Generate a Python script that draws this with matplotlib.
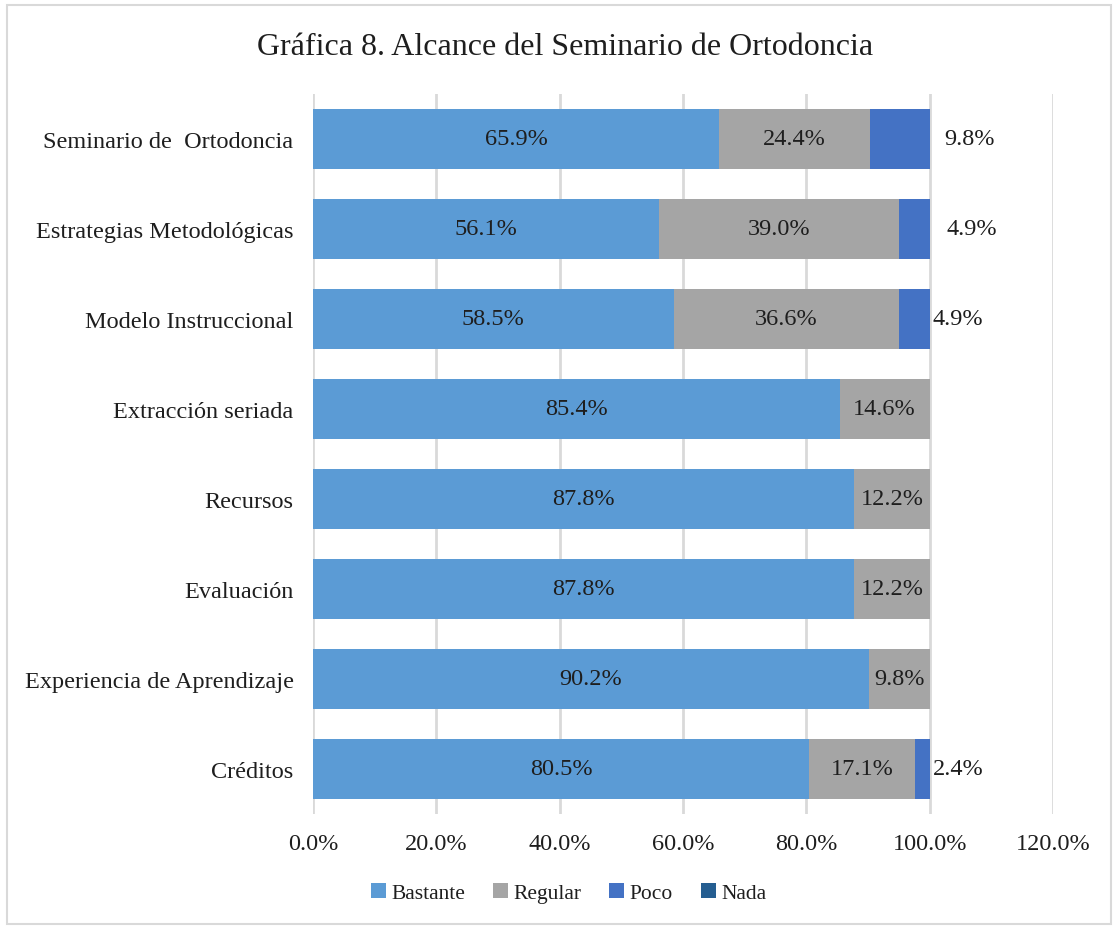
import matplotlib.pyplot as plt
import numpy as np
from matplotlib.patches import Rectangle

plt.rcParams['font.family'] = ['Liberation Serif', 'DejaVu Serif']

categorias = ['Seminario de  Ortodoncia', 'Estrategias Metodológicas', 'Modelo Instruccional',
              'Extracción seriada', 'Recursos', 'Evaluación',
              'Experiencia de Aprendizaje', 'Créditos']
bastante = [65.9, 56.1, 58.5, 85.4, 87.8, 87.8, 90.2, 80.5]
regular = [24.4, 39.0, 36.6, 14.6, 12.2, 12.2, 9.8, 17.1]
poco = [9.8, 4.9, 4.9, 0.0, 0.0, 0.0, 0.0, 2.4]
nada = [0.0, 0.0, 0.0, 0.0, 0.0, 0.0, 0.0, 0.0]

series = [('Bastante', bastante, '#5B9BD5'),
          ('Regular', regular, '#A5A5A5'),
          ('Poco', poco, '#4472C4'),
          ('Nada', nada, '#255E91')]

# separacion de las etiquetas de "Poco" respecto al final de la barra
sep_poco = [2.3, 2.8, 0.4, 0, 0, 0, 0, 0.5]

fig = plt.figure(figsize=(11.15, 9.28), dpi=100)
ax = fig.add_axes([0.2807, 0.1218, 0.6637, 0.7759])

y = np.arange(len(categorias))[::-1]
izq = np.zeros(len(categorias))
for nombre, vals, color in series:
    vals = np.array(vals)
    ax.barh(y, vals, left=izq, height=0.667, color=color, label=nombre, zorder=3)
    for i in range(len(vals)):
        if vals[i] <= 0:
            continue
        txt = f'{vals[i]:.1f}%'
        if nombre == 'Poco':
            ax.text(izq[i] + vals[i] + sep_poco[i], y[i], txt, ha='left', va='center',
                    fontsize=17.5, color='#1e1e1e', zorder=4)
        else:
            ax.text(izq[i] + vals[i] / 2, y[i], txt, ha='center', va='center',
                    fontsize=17.5, color='#1e1e1e', zorder=4)
    izq = izq + vals

ax.set_xlim(0, 120)
ax.set_ylim(-0.5, len(categorias) - 0.5)
ax.set_xticks(np.arange(0, 121, 20))
ax.set_xticklabels([f'{v:.1f}%' for v in np.arange(0, 121, 20)])
ax.set_yticks(y)
ax.set_yticklabels(categorias)
ax.tick_params(axis='both', length=0, labelsize=17.5, colors='#1e1e1e')
ax.tick_params(axis='y', pad=14)
ax.tick_params(axis='x', pad=14)
ax.grid(axis='x', color='#D9D9D9', linewidth=2, zorder=0)
for s in ax.spines.values():
    s.set_visible(False)

fig.text(0.507, 0.949, 'Gráfica 8. Alcance del Seminario de Ortodoncia',
         ha='center', va='center', fontsize=23, color='#1e1e1e')

fig.legend(loc='center', bbox_to_anchor=(0.51, 0.037), ncol=4, frameon=False,
           fontsize=15.5, handlelength=0.7, handleheight=0.7, handletextpad=0.25,
           columnspacing=1.3, labelcolor='#1e1e1e')

fig.patches.append(Rectangle((0.006, 0.003), 0.99, 0.99, transform=fig.transFigure,
                             fill=False, edgecolor='#D9D9D9', linewidth=1.5))

fig.savefig('out.png', dpi=100)
